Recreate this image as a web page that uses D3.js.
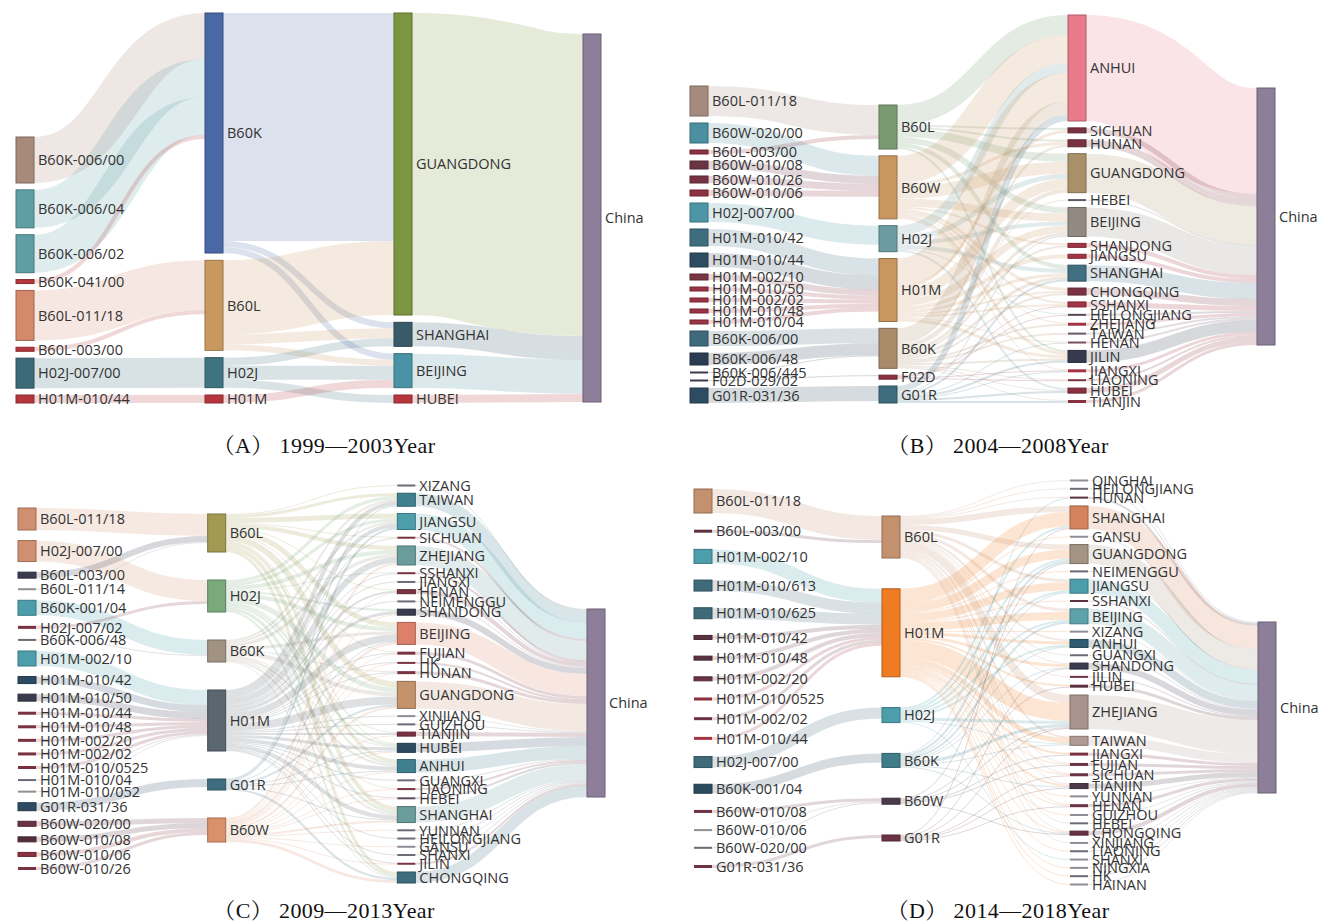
<!DOCTYPE html>
<html>
<head>
<meta charset="utf-8">
<script src="https://cdn.jsdelivr.net/npm/d3@7"></script>
<style>
  body { margin: 0; background: #fff; }
  svg { display: block; }
  .lbl { font-family: "Open Sans", "Noto Sans", sans-serif; font-size: 14.5px; fill: #333; }
  .cap { font-family: "Liberation Serif", "Noto Serif CJK SC", "Noto Sans CJK SC", serif; font-size: 22px; fill: #111; letter-spacing: 0.4px; }
</style>
</head>
<body>
<svg id="chart" width="1328" height="924"></svg>
<script>
// ---------------- data: (A) 1999—2003 ----------------
const codesA = ["B60K-006/00", "B60K-006/04", "B60K-006/02", "B60K-041/00", "B60L-011/18", "B60L-003/00", "H02J-007/00", "H01M-010/44"];
const codeValuesA = [46, 38, 38, 4, 50, 4, 30, 8];
const classesA = ["B60K", "B60L", "H02J", "H01M"];
const provincesA = ["GUANGDONG", "SHANGHAI", "BEIJING", "HUBEI"];
const flowsA = [
  ["B60K", "GUANGDONG", 228], ["B60K", "SHANGHAI", 6], ["B60K", "BEIJING", 6],
  ["B60L", "GUANGDONG", 74], ["B60L", "SHANGHAI", 10], ["B60L", "BEIJING", 6],
  ["H02J", "SHANGHAI", 8], ["H02J", "BEIJING", 14], ["H02J", "HUBEI", 8],
  ["H01M", "BEIJING", 8]
];

// ---------------- data: (B) 2004—2008 ----------------
const codesB = ["B60L-011/18", "B60W-020/00", "B60L-003/00", "B60W-010/08", "B60W-010/26", "B60W-010/06", "H02J-007/00",
  "H01M-010/42", "H01M-010/44", "H01M-002/10", "H01M-010/50", "H01M-002/02", "H01M-010/48", "H01M-010/04",
  "B60K-006/00", "B60K-006/48", "B60K-006/445", "F02D-029/02", "G01R-031/36"];
const codeValuesB = [30, 20, 4, 8, 7, 6, 19, 17, 14, 6, 4, 4, 4, 4, 15, 12, 1, 1, 15];
const classesB = ["B60L", "B60W", "H02J", "H01M", "B60K", "F02D", "G01R"];
const provincesB = ["ANHUI", "SICHUAN", "HUNAN", "GUANGDONG", "HEBEI", "BEIJING", "SHANDONG", "JIANGSU", "SHANGHAI",
  "CHONGQING", "SSHANXI", "HEILONGJIANG", "ZHEJIANG", "TAIWAN", "HENAN", "JILIN", "JIANGXI", "LIAONING", "HUBEI", "TIANJIN"];
const flowsB = [
  ["B60L", "ANHUI", 20], ["B60L", "SICHUAN", 2], ["B60L", "GUANGDONG", 8], ["B60L", "BEIJING", 6], ["B60L", "SHANGHAI", 4],
  ["B60L", "JILIN", 2], ["B60L", "HUNAN", 2],
  ["B60W", "ANHUI", 28], ["B60W", "HUNAN", 3], ["B60W", "GUANGDONG", 12], ["B60W", "BEIJING", 8], ["B60W", "SHANDONG", 2],
  ["B60W", "CHONGQING", 3], ["B60W", "SSHANXI", 2], ["B60W", "JIANGXI", 1], ["B60W", "ZHEJIANG", 1], ["B60W", "JILIN", 3],
  ["H02J", "ANHUI", 10], ["H02J", "GUANGDONG", 5], ["H02J", "BEIJING", 4], ["H02J", "SHANGHAI", 4], ["H02J", "HEILONGJIANG", 1],
  ["H02J", "HUBEI", 2],
  ["H01M", "ANHUI", 28], ["H01M", "SICHUAN", 3], ["H01M", "GUANGDONG", 10], ["H01M", "BEIJING", 7], ["H01M", "JIANGSU", 4],
  ["H01M", "SHANGHAI", 3], ["H01M", "CHONGQING", 2], ["H01M", "SSHANXI", 2], ["H01M", "HENAN", 1], ["H01M", "JILIN", 3],
  ["B60K", "ANHUI", 14], ["B60K", "HUNAN", 2], ["B60K", "GUANGDONG", 4], ["B60K", "HEBEI", 1], ["B60K", "BEIJING", 3],
  ["B60K", "SHANDONG", 2], ["B60K", "SHANGHAI", 3], ["B60K", "CHONGQING", 2], ["B60K", "ZHEJIANG", 2], ["B60K", "TAIWAN", 2],
  ["B60K", "JILIN", 2], ["B60K", "LIAONING", 1], ["B60K", "HUBEI", 1], ["B60K", "TIANJIN", 1],
  ["F02D", "SSHANXI", 1], ["F02D", "JIANGXI", 1], ["F02D", "LIAONING", 1], ["F02D", "HEILONGJIANG", 1],
  ["G01R", "ANHUI", 6], ["G01R", "SHANGHAI", 2], ["G01R", "JILIN", 2], ["G01R", "HENAN", 1], ["G01R", "JIANGXI", 1],
  ["G01R", "HUBEI", 2], ["G01R", "TIANJIN", 2], ["G01R", "BEIJING", 1]
];

// ---------------- data: (C) 2009—2013 ----------------
const codesC = ["B60L-011/18", "H02J-007/00", "B60L-003/00", "B60L-011/14", "B60K-001/04", "H02J-007/02", "B60K-006/48",
  "H01M-002/10", "H01M-010/42", "H01M-010/50", "H01M-010/44", "H01M-010/48", "H01M-002/20", "H01M-002/02",
  "H01M-010/0525", "H01M-010/04", "H01M-010/052", "G01R-031/36", "B60W-020/00", "B60W-010/08", "B60W-010/06", "B60W-010/26"];
const codeValuesC = [22, 21, 6, 1, 15, 3, 1, 15, 7, 7, 3, 3, 3, 3, 3, 1, 1, 8, 5, 5, 4, 3];
const classesC = ["B60L", "H02J", "B60K", "H01M", "G01R", "B60W"];
const provincesC = ["XIZANG", "TAIWAN", "JIANGSU", "SICHUAN", "ZHEJIANG", "SSHANXI", "JIANGXI", "HENAN", "NEIMENGGU",
  "SHANDONG", "BEIJING", "FUJIAN", "HK", "HUNAN", "GUANGDONG", "XINJIANG", "GUIZHOU", "TIANJIN", "HUBEI", "ANHUI",
  "GUANGXI", "LIAONING", "HEBEI", "SHANGHAI", "YUNNAN", "HEILONGJIANG", "GANSU", "SHANXI", "JILIN", "CHONGQING"];
const flowsC = [
  ["B60L", "TAIWAN", 3], ["B60L", "JIANGSU", 5], ["B60L", "ZHEJIANG", 4], ["B60L", "BEIJING", 5], ["B60L", "GUANGDONG", 6],
  ["B60L", "HUBEI", 1], ["B60L", "ANHUI", 3], ["B60L", "SHANGHAI", 4], ["B60L", "CHONGQING", 3], ["B60L", "SICHUAN", 1],
  ["B60L", "HENAN", 1], ["B60L", "XIZANG", 1], ["B60L", "FUJIAN", 1],
  ["H02J", "TAIWAN", 3], ["H02J", "JIANGSU", 3], ["H02J", "ZHEJIANG", 4], ["H02J", "SHANDONG", 2], ["H02J", "BEIJING", 4],
  ["H02J", "GUANGDONG", 5], ["H02J", "TIANJIN", 1], ["H02J", "HUBEI", 2], ["H02J", "ANHUI", 2], ["H02J", "SHANGHAI", 3],
  ["H02J", "CHONGQING", 2], ["H02J", "SSHANXI", 1],
  ["B60K", "TAIWAN", 2], ["B60K", "JIANGSU", 2], ["B60K", "ZHEJIANG", 3], ["B60K", "BEIJING", 3], ["B60K", "GUANGDONG", 4],
  ["B60K", "HUBEI", 1], ["B60K", "ANHUI", 2], ["B60K", "SHANGHAI", 2], ["B60K", "CHONGQING", 1], ["B60K", "HUNAN", 1],
  ["B60K", "LIAONING", 1],
  ["H01M", "TAIWAN", 4], ["H01M", "JIANGSU", 4], ["H01M", "ZHEJIANG", 6], ["H01M", "SICHUAN", 1], ["H01M", "SSHANXI", 1],
  ["H01M", "JIANGXI", 1], ["H01M", "HENAN", 2], ["H01M", "NEIMENGGU", 1], ["H01M", "SHANDONG", 3], ["H01M", "BEIJING", 7],
  ["H01M", "FUJIAN", 1], ["H01M", "HK", 1], ["H01M", "HUNAN", 1], ["H01M", "GUANGDONG", 8], ["H01M", "XINJIANG", 1],
  ["H01M", "GUIZHOU", 1], ["H01M", "TIANJIN", 2], ["H01M", "HUBEI", 3], ["H01M", "ANHUI", 4], ["H01M", "GUANGXI", 1],
  ["H01M", "HEBEI", 1], ["H01M", "SHANGHAI", 4], ["H01M", "HEILONGJIANG", 1], ["H01M", "SHANXI", 1], ["H01M", "JILIN", 1],
  ["G01R", "TAIWAN", 1], ["G01R", "JIANGSU", 2], ["G01R", "BEIJING", 1], ["G01R", "GUANGDONG", 2], ["G01R", "HUBEI", 1],
  ["G01R", "ANHUI", 1], ["G01R", "SHANGHAI", 1], ["G01R", "CHONGQING", 2],
  ["B60W", "ZHEJIANG", 2], ["B60W", "HENAN", 1], ["B60W", "SHANDONG", 1], ["B60W", "BEIJING", 2], ["B60W", "FUJIAN", 1],
  ["B60W", "HK", 1], ["B60W", "HUNAN", 1], ["B60W", "GUANGDONG", 2], ["B60W", "TIANJIN", 1], ["B60W", "HUBEI", 1],
  ["B60W", "ANHUI", 1], ["B60W", "LIAONING", 1], ["B60W", "HEBEI", 1], ["B60W", "SHANGHAI", 2], ["B60W", "YUNNAN", 1],
  ["B60W", "GANSU", 1], ["B60W", "JILIN", 1], ["B60W", "CHONGQING", 3]
];

// ---------------- data: (D) 2014—2018 ----------------
const codesD = ["B60L-011/18", "B60L-003/00", "H01M-002/10", "H01M-010/613", "H01M-010/625", "H01M-010/42", "H01M-010/48",
  "H01M-002/20", "H01M-010/0525", "H01M-002/02", "H01M-010/44", "H02J-007/00", "B60K-001/04", "B60W-010/08",
  "B60W-010/06", "B60W-020/00", "G01R-031/36"];
const codeValuesD = [24, 3, 14, 11, 11, 4, 4, 4, 3, 3, 3, 11, 9, 3, 1, 1, 3];
const classesD = ["B60L", "H01M", "H02J", "B60K", "B60W", "G01R"];
const provincesD = ["QINGHAI", "HEILONGJIANG", "HUNAN", "SHANGHAI", "GANSU", "GUANGDONG", "NEIMENGGU", "JIANGSU", "SSHANXI",
  "BEIJING", "XIZANG", "ANHUI", "GUANGXI", "SHANDONG", "JILIN", "HUBEI", "ZHEJIANG", "TAIWAN", "JIANGXI", "FUJIAN",
  "SICHUAN", "TIANJIN", "YUNNAN", "HENAN", "GUIZHOU", "HEBEI", "CHONGQING", "XINJIANG", "LIAONING", "SHANXI",
  "NINGXIA", "HK", "HAINAN"];
const flowsD = [
  ["B60L", "HUNAN", 1], ["B60L", "SHANGHAI", 6], ["B60L", "GUANGDONG", 5], ["B60L", "JIANGSU", 3], ["B60L", "BEIJING", 3],
  ["B60L", "ANHUI", 2], ["B60L", "SHANDONG", 1], ["B60L", "ZHEJIANG", 8], ["B60L", "TAIWAN", 2], ["B60L", "FUJIAN", 1],
  ["B60L", "TIANJIN", 1], ["B60L", "CHONGQING", 1], ["B60L", "HEILONGJIANG", 1], ["B60L", "QINGHAI", 1], ["B60L", "SICHUAN", 1],
  ["B60L", "HENAN", 1], ["B60L", "GUANGXI", 1], ["B60L", "JILIN", 1], ["B60L", "HEBEI", 1], ["B60L", "XINJIANG", 1],
  ["H01M", "SHANGHAI", 14], ["H01M", "GUANGDONG", 9], ["H01M", "JIANGSU", 8], ["H01M", "BEIJING", 8], ["H01M", "ANHUI", 3],
  ["H01M", "SHANDONG", 3], ["H01M", "ZHEJIANG", 18], ["H01M", "TAIWAN", 5], ["H01M", "HUBEI", 2], ["H01M", "JIANGXI", 2],
  ["H01M", "FUJIAN", 1], ["H01M", "SICHUAN", 1], ["H01M", "TIANJIN", 2], ["H01M", "HENAN", 1], ["H01M", "CHONGQING", 1],
  ["H01M", "GANSU", 1], ["H01M", "NEIMENGGU", 1], ["H01M", "SSHANXI", 1], ["H01M", "XIZANG", 1], ["H01M", "YUNNAN", 1],
  ["H01M", "GUIZHOU", 1], ["H01M", "LIAONING", 1], ["H01M", "NINGXIA", 1], ["H01M", "HK", 1], ["H01M", "HAINAN", 1],
  ["H02J", "SHANGHAI", 2], ["H02J", "GUANGDONG", 2], ["H02J", "JIANGSU", 2], ["H02J", "BEIJING", 2], ["H02J", "ANHUI", 2],
  ["H02J", "ZHEJIANG", 3], ["H02J", "TAIWAN", 1], ["H02J", "SHANXI", 1],
  ["B60K", "GUANGDONG", 2], ["B60K", "JIANGSU", 1], ["B60K", "BEIJING", 2], ["B60K", "ANHUI", 1], ["B60K", "SHANDONG", 1],
  ["B60K", "ZHEJIANG", 3], ["B60K", "TAIWAN", 1], ["B60K", "TIANJIN", 1], ["B60K", "CHONGQING", 1], ["B60K", "HUNAN", 1],
  ["B60W", "GUANGDONG", 1], ["B60W", "ZHEJIANG", 1], ["B60W", "JIANGXI", 1], ["B60W", "FUJIAN", 1], ["B60W", "HUBEI", 1],
  ["B60W", "CHONGQING", 1],
  ["G01R", "SHANGHAI", 1], ["G01R", "SHANDONG", 1], ["G01R", "ZHEJIANG", 1], ["G01R", "SICHUAN", 1], ["G01R", "TIANJIN", 1],
  ["G01R", "HENAN", 1]
];

const captions = ["（A） 1999—2003Year", "（B） 2004—2008Year", "（C） 2009—2013Year", "（D） 2014—2018Year"];

// ---------------- node colours ----------------
const RED = "#b5363c", WINE = "#7a3242", DKWINE = "#5c3242", SLATE = "#3a3c4e", GREY = "#6c6c76", LTGREY = "#8e8e96";
const colorsA = {
  "B60K-006/00": "#a8897a", "B60K-006/04": "#5f9ea3", "B60K-006/02": "#5f9ea3", "B60K-041/00": RED,
  "B60L-011/18": "#d4896c", "B60L-003/00": RED, "H02J-007/00": "#3c6b78", "H01M-010/44": RED,
  "B60K": "#4a67a6", "B60L": "#c9985e", "H02J": "#3f7380", "H01M": RED,
  "GUANGDONG": "#7b9641", "SHANGHAI": "#385a69", "BEIJING": "#4a93a6", "HUBEI": RED
};
const colorsB = {
  "B60L-011/18": "#a58b7d", "B60W-020/00": "#4b8fa0", "B60L-003/00": "#8e3141", "B60W-010/08": "#6a3444",
  "B60W-010/26": "#763444", "B60W-010/06": "#8e3141", "H02J-007/00": "#4c96a6", "H01M-010/42": "#3f6d80",
  "H01M-010/44": "#2e4c61", "H01M-002/10": "#7a3442", "H01M-010/50": "#9b3444", "H01M-002/02": "#9b3444",
  "H01M-010/48": "#9b3444", "H01M-010/04": "#9b3444", "B60K-006/00": "#3f697d", "B60K-006/48": "#2b3c50",
  "B60K-006/445": SLATE, "F02D-029/02": SLATE, "G01R-031/36": "#2e4c61",
  "B60L": "#7a9a72", "B60W": "#c99660", "H02J": "#6d9ba2", "H01M": "#c99660", "B60K": "#a98b6a", "F02D": "#8e3141", "G01R": "#3f6d80",
  "ANHUI": "#e87a8c", "SICHUAN": WINE, "HUNAN": WINE, "GUANGDONG": "#a99068", "HEBEI": "#5a5a68", "BEIJING": "#928a82",
  "SHANDONG": "#a33444", "JIANGSU": "#a33444", "SHANGHAI": "#3f6f80", "CHONGQING": WINE, "SSHANXI": "#a33444",
  "HEILONGJIANG": "#5a4858", "ZHEJIANG": "#a33444", "TAIWAN": "#6a5a68", "HENAN": "#7a5060", "JILIN": "#363a4e",
  "JIANGXI": "#a33444", "LIAONING": WINE, "HUBEI": "#8a3040", "TIANJIN": "#8a3040"
};
const colorsC = {
  "B60L-011/18": "#d08f70", "H02J-007/00": "#d08f70", "B60L-003/00": SLATE, "B60L-011/14": LTGREY, "B60K-001/04": "#4c9eab",
  "H02J-007/02": WINE, "B60K-006/48": GREY, "H01M-002/10": "#4c9eab", "H01M-010/42": "#2c4a62", "H01M-010/50": SLATE,
  "H01M-010/44": WINE, "H01M-010/48": WINE, "H01M-002/20": WINE, "H01M-002/02": WINE, "H01M-010/0525": WINE,
  "H01M-010/04": GREY, "H01M-010/052": LTGREY, "G01R-031/36": "#2c4a62", "B60W-020/00": "#6a3444", "B60W-010/08": "#55303c",
  "B60W-010/06": "#8e3141", "B60W-010/26": WINE,
  "B60L": "#a29a52", "H02J": "#7aaa7c", "B60K": "#a29282", "H01M": "#5a6670", "G01R": "#3f6d80", "B60W": "#d8916a",
  "XIZANG": GREY, "TAIWAN": "#3f808f", "JIANGSU": "#4c9eab", "SICHUAN": WINE, "ZHEJIANG": "#6b9c9c", "SSHANXI": WINE,
  "JIANGXI": GREY, "HENAN": WINE, "NEIMENGGU": GREY, "SHANDONG": SLATE, "BEIJING": "#dc806a", "FUJIAN": WINE, "HK": WINE,
  "HUNAN": WINE, "GUANGDONG": "#c4936c", "XINJIANG": LTGREY, "GUIZHOU": GREY, "TIANJIN": WINE, "HUBEI": "#2c4a62",
  "ANHUI": "#3f808f", "GUANGXI": GREY, "LIAONING": WINE, "HEBEI": "#5a4a5a", "SHANGHAI": "#6b9c9c", "YUNNAN": GREY,
  "HEILONGJIANG": GREY, "GANSU": LTGREY, "SHANXI": GREY, "JILIN": WINE, "CHONGQING": "#3f6d80"
};
const colorsD = {
  "B60L-011/18": "#c4916e", "B60L-003/00": DKWINE, "H01M-002/10": "#4c9eab", "H01M-010/613": "#3f6a7a",
  "H01M-010/625": "#3f6a7a", "H01M-010/42": DKWINE, "H01M-010/48": DKWINE, "H01M-002/20": "#6a3444",
  "H01M-010/0525": "#8e3141", "H01M-002/02": "#6a3444", "H01M-010/44": "#a33444", "H02J-007/00": "#3f6a7a",
  "B60K-001/04": "#2c4a5e", "B60W-010/08": "#6a3444", "B60W-010/06": LTGREY, "B60W-020/00": GREY, "G01R-031/36": "#6a3444",
  "B60L": "#c4916e", "H01M": "#ef7b22", "H02J": "#4c9eab", "B60K": "#3f7d8a", "B60W": "#4a3a4c", "G01R": "#6a3444",
  "QINGHAI": LTGREY, "HEILONGJIANG": GREY, "HUNAN": DKWINE, "SHANGHAI": "#d4835c", "GANSU": LTGREY, "GUANGDONG": "#a39484",
  "NEIMENGGU": GREY, "JIANGSU": "#4c9eab", "SSHANXI": DKWINE, "BEIJING": "#5ea2aa", "XIZANG": LTGREY, "ANHUI": "#2f5c72",
  "GUANGXI": GREY, "SHANDONG": SLATE, "JILIN": "#6a3444", "HUBEI": DKWINE, "ZHEJIANG": "#a8948c", "TAIWAN": "#b09c94",
  "JIANGXI": WINE, "FUJIAN": "#6a3444", "SICHUAN": "#6a3444", "TIANJIN": "#4a3a4c", "YUNNAN": LTGREY, "HENAN": "#6a3444",
  "GUIZHOU": LTGREY, "HEBEI": GREY, "CHONGQING": "#6a3444", "XINJIANG": LTGREY, "LIAONING": GREY, "SHANXI": LTGREY,
  "NINGXIA": LTGREY, "HK": GREY, "HAINAN": LTGREY
};
const CHINA_COLOR = "#8d7f99";

// ---------------- layout settings ----------------
// column x-range, vertical extent per column [top, bottom] (root column: top only), caption anchor
const panels = [
  { codes: codesA, codeValues: codeValuesA, classes: classesA, provinces: provincesA, flows: flowsA, colors: colorsA,
    xRange: [16, 583], extents: [[137, 403], [13, 403], [13, 403], [34, 34]], caption: captions[0], capX: 324, capY: 453 },
  { codes: codesB, codeValues: codeValuesB, classes: classesB, provinces: provincesB, flows: flowsB, colors: colorsB,
    xRange: [690, 1257], extents: [[86, 403], [105, 403], [15, 403], [88, 88]], caption: captions[1], capX: 998, capY: 453 },
  { codes: codesC, codeValues: codeValuesC, classes: classesC, provinces: provincesC, flows: flowsC, colors: colorsC,
    xRange: [18, 587], extents: [[508, 870], [514, 842], [485, 883], [609, 609]], caption: captions[2], capX: 324, capY: 918 },
  { codes: codesD, codeValues: codeValuesD, classes: classesD, provinces: provincesD, flows: flowsD, colors: colorsD,
    xRange: [694, 1258], extents: [[489, 868], [516, 841], [480, 885], [622, 622]], caption: captions[3], capX: 998, capY: 918 }
];

const NODE_W = 18;
const LINK_OPACITY = 0.2;
const svg = d3.select("#chart");

function drawSankey(p) {
  // one value unit is one pixel of band thickness
  const ky = d3.scaleLinear().domain([0, 1]).range([0, 1]);
  const colX = d3.scalePoint().domain([0, 1, 2, 3]).range(p.xRange);
  const columns = [p.codes, p.classes, p.provinces, ["China"]];

  const byKey = new Map();
  const nodes = [];
  const getNode = (name, col) => {
    const key = col + "|" + name;
    let n = byKey.get(key);
    if (!n) {
      n = { name, col, inL: [], outL: [] };
      byKey.set(key, n);
      nodes.push(n);
    }
    return n;
  };
  columns.forEach((names, c) => names.forEach(nm => getNode(nm, c)));

  const links = [];
  const addLink = (s, t, v) => {
    const l = { source: s, target: t, value: v };
    s.outL.push(l); t.inL.push(l); links.push(l);
  };
  // code -> main class (first four characters of the code)
  p.codes.forEach((c, i) => addLink(getNode(c, 0), getNode(c.slice(0, 4), 1), p.codeValues[i]));
  // main class -> province
  p.flows.forEach(([s, t, v]) => addLink(getNode(s, 1), getNode(t, 2), v));
  // province -> China
  p.provinces.forEach(pr => {
    const n = getNode(pr, 2);
    addLink(n, getNode("China", 3), d3.sum(n.inL, l => l.value));
  });

  nodes.forEach(n => {
    n.value = Math.max(d3.sum(n.inL, l => l.value), d3.sum(n.outL, l => l.value));
    n.h = ky(n.value);
    n.x0 = colX(n.col);
    n.x1 = n.x0 + NODE_W;
  });

  // stack each column inside its extent with even gaps
  columns.forEach((names, c) => {
    const ns = names.map(nm => byKey.get(c + "|" + nm));
    const [top, bottom] = p.extents[c];
    const total = d3.sum(ns, n => n.h);
    const gap = ns.length > 1 ? (bottom - top - total) / (ns.length - 1) : 0;
    let y = top;
    ns.forEach(n => { n.y0 = y; n.y1 = y + n.h; y = n.y1 + gap; });
  });

  links.forEach(l => { l.w = ky(l.value); });
  nodes.forEach(n => {
    let sy = n.y0;
    n.outL.slice().sort((a, b) => a.target.y0 - b.target.y0).forEach(l => { l.y0 = sy + l.w / 2; sy += l.w; });
    let ty = n.y0;
    n.inL.slice().sort((a, b) => a.source.y0 - b.source.y0).forEach(l => { l.y1 = ty + l.w / 2; ty += l.w; });
  });

  const colorOf = n => n.name === "China" ? CHINA_COLOR : (p.colors[n.name] || "#888");
  const g = svg.append("g");

  g.append("g")
    .attr("fill", "none")
    .selectAll("path")
    .data(links)
    .join("path")
    .attr("d", d3.linkHorizontal().source(l => [l.source.x1, l.y0]).target(l => [l.target.x0, l.y1]))
    .attr("stroke", l => colorOf(l.source))
    .attr("stroke-opacity", LINK_OPACITY)
    .attr("stroke-width", l => Math.max(1, l.w));

  g.append("g")
    .selectAll("rect")
    .data(nodes)
    .join("rect")
    .attr("x", n => n.x0)
    .attr("y", n => n.h < 2 ? (n.y0 + n.y1) / 2 - 1 : n.y0)
    .attr("width", NODE_W)
    .attr("height", n => Math.max(2, n.h))
    .attr("fill", colorOf)
    .attr("stroke", n => n.h >= 4 ? d3.color(colorOf(n)).darker(0.8) : "none")
    .attr("stroke-width", 1);

  g.append("g")
    .selectAll("text")
    .data(nodes)
    .join("text")
    .attr("class", "lbl")
    .attr("x", n => n.x1 + 4)
    .attr("y", n => (n.y0 + n.y1) / 2)
    .attr("dy", "0.36em")
    .text(n => n.name);

  svg.append("text")
    .attr("class", "cap")
    .attr("x", p.capX)
    .attr("y", p.capY)
    .attr("text-anchor", "middle")
    .text(p.caption);
}

panels.forEach(drawSankey);
</script>
</body>
</html>
